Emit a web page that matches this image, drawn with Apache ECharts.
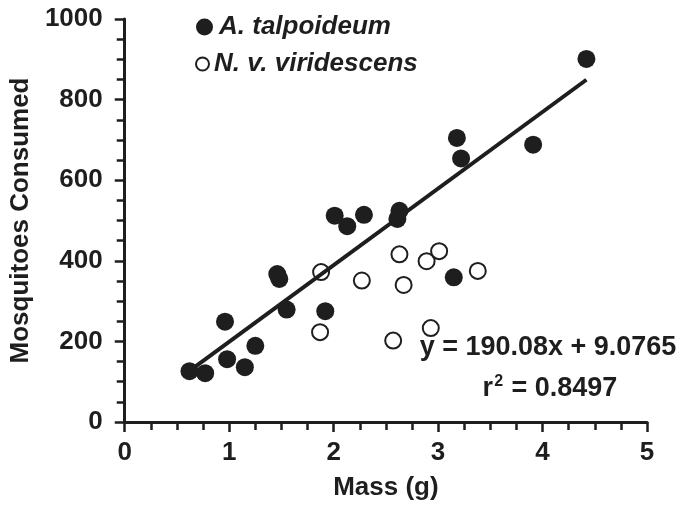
<!DOCTYPE html>
<html>
<head>
<meta charset="utf-8">
<script src="https://cdn.jsdelivr.net/npm/echarts@6/dist/echarts.min.js"></script>
<style>
  html, body { margin: 0; padding: 0; background: #fff; }
  #chart { width: 694px; height: 506px; }
</style>
</head>
<body>
<div id="chart"></div>
<script>
// A. talpoideum (filled)
var talpMass  = [0.62, 0.77, 0.96, 0.98, 1.15, 1.25, 1.46, 1.48, 1.55, 1.92, 2.01, 2.13, 2.29, 2.61, 2.63, 3.15, 3.18, 3.22, 3.91, 4.42];
var talpEaten = [126, 121, 249, 156, 136, 189, 367, 355, 279, 275, 512, 486, 514, 504, 524, 359, 705, 654, 688, 901];
// N. v. viridescens (open)
var viriMass  = [1.88, 1.87, 2.27, 2.63, 2.67, 2.57, 2.89, 3.01, 3.38, 2.93];
var viriEaten = [372, 223, 351, 416, 340, 202, 399, 424, 375, 233];
// fit for A. talpoideum
var slope = 190.08;
var intercept = 9.0765;
var rSquared = 0.8497;

var ink = '#1e1e1e';
var font = 'Arial, "Liberation Sans", sans-serif';

function pairs(xs, ys) {
    var out = [];
    for (var i = 0; i < xs.length; i++) out.push([xs[i], ys[i]]);
    return out;
}

var xLo = Math.min.apply(null, talpMass);
var xHi = Math.max.apply(null, talpMass);
var fitLine = [[xLo, slope * xLo + intercept], [xHi, slope * xHi + intercept]];

var chart = echarts.init(document.getElementById('chart'));

var axisCommon = {
    type: 'value',
    splitLine: { show: false },
    axisLine: { show: true, lineStyle: { color: ink, width: 3 } },
    axisTick: { show: true, length: 10, lineStyle: { color: ink, width: 2.5 } },
    minorTick: { show: true, splitNumber: 4, length: 8, lineStyle: { color: ink, width: 2.5 } },
    axisLabel: { color: ink, fontSize: 26, fontWeight: 'bold', fontFamily: font, formatter: function (v) { return String(v); } },
    nameLocation: 'middle',
    nameTextStyle: { color: ink, fontSize: 26, fontWeight: 'bold', fontFamily: font }
};

var legendText = { color: ink, fontSize: 26, fontWeight: 'bold', fontStyle: 'italic', fontFamily: font };

var option = {
    animation: false,
    backgroundColor: '#fff',
    grid: { left: 123, right: 47, top: 19, bottom: 83, containLabel: false },
    legend: [
        {
            left: 191, top: 9,
            itemWidth: 17, itemHeight: 17,
            textStyle: Object.assign({ padding: [0, 0, 0, 1] }, legendText),
            data: ['A. talpoideum']
        },
        {
            left: 190, top: 46,
            itemWidth: 13, itemHeight: 13,
            textStyle: Object.assign({ padding: [0, 0, 0, 0] }, legendText),
            data: ['N. v. viridescens']
        }
    ],
    xAxis: Object.assign({}, axisCommon, {
        min: 0, max: 5, interval: 1,
        name: 'Mass (g)', nameGap: 53,
        axisLabel: Object.assign({}, axisCommon.axisLabel, { margin: 18 })
    }),
    yAxis: Object.assign({}, axisCommon, {
        min: 0, max: 1000, interval: 200,
        name: 'Mosquitoes Consumed', nameGap: 78,
        axisLabel: Object.assign({}, axisCommon.axisLabel, { margin: 22 })
    }),
    series: [
        {
            name: 'A. talpoideum',
            type: 'scatter',
            symbol: 'circle',
            symbolSize: 18,
            itemStyle: { color: ink, opacity: 1 },
            data: pairs(talpMass, talpEaten),
            z: 3
        },
        {
            name: 'N. v. viridescens',
            type: 'scatter',
            symbol: 'circle',
            symbolSize: 16,
            itemStyle: { color: '#fff', borderColor: ink, borderWidth: 2, opacity: 1 },
            data: pairs(viriMass, viriEaten),
            z: 3
        },
        {
            name: 'fit',
            type: 'line',
            data: fitLine,
            showSymbol: false,
            symbol: 'none',
            lineStyle: { color: ink, width: 4 },
            z: 4,
            silent: true
        }
    ],
    graphic: [
        {
            type: 'text', x: 548, y: 348,
            style: {
                text: 'y = ' + slope.toFixed(2) + 'x + ' + intercept,
                fill: ink, font: 'bold 27px ' + font,
                align: 'center', verticalAlign: 'middle'
            }
        },
        {
            type: 'text', x: 550, y: 388,
            style: {
                text: '{a|r}{s|2}{a| = ' + rSquared + '}',
                align: 'center', verticalAlign: 'middle',
                rich: {
                    a: { fill: ink, font: 'bold 27px ' + font, verticalAlign: 'bottom' },
                    s: { fill: ink, font: 'bold 16px ' + font, verticalAlign: 'top', padding: [0, 1, 12, 1] }
                }
            }
        }
    ]
};

chart.setOption(option);
</script>
</body>
</html>
